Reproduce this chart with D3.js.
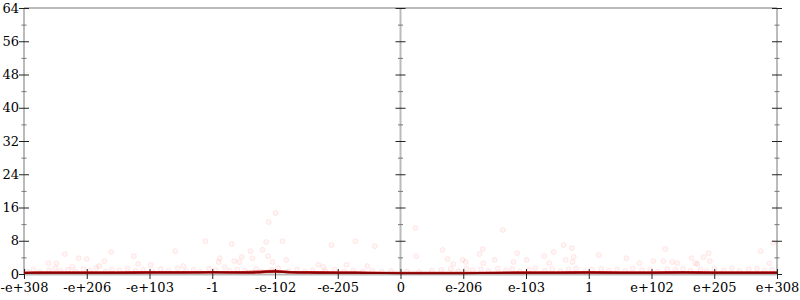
<!DOCTYPE html>
<html>
<head>
<meta charset="utf-8">
<script src="https://cdn.jsdelivr.net/npm/d3@7"></script>
<style>
  body { margin: 0; background: #fff; }
  text { font-family: "DejaVu Serif", serif; font-size: 13px; fill: #000; }
</style>
</head>
<body>
<div class="container"></div>
<script>
const WIDTH = 800;
const HEIGHT = 300;
const LEFT = 24, RIGHT = 777, TOP = 8, BOTTOM = 274;

// x is the position on the ordered-bits axis, one unit per labelled tick
var xTicks = [-6, -5, -4, -3, -2, -1, 0, 1, 2, 3, 4, 5, 6];
var xTickLabels = ["-e+308", "-e+206", "-e+103", "-1", "-e-102", "-e-205", "0",
                   "e-206", "e-103", "1", "e+102", "e+205", "e+308"];
var yTicks = [0, 8, 16, 24, 32, 40, 48, 56, 64];
var yMinorTicks = [4, 12, 20, 28, 36, 44, 52, 60];

// running mean and its band
var meanX = [-6, -5.5, -5, -4.5, -4, -3.5, -3, -2.5, -2.25, -2, -1.75, -1.5, -1, -0.5, 0,
             0.5, 1, 1.5, 2, 2.5, 3, 3.5, 4, 4.5, 5, 5.5, 6];
var meanY = [0.25, 0.3, 0.3, 0.3, 0.35, 0.35, 0.4, 0.35, 0.45, 0.6, 0.4, 0.35, 0.3, 0.25, 0.2,
             0.2, 0.2, 0.25, 0.3, 0.3, 0.35, 0.3, 0.3, 0.35, 0.3, 0.3, 0.3];
var bandLow = [0.0, 0.0, 0.0, 0.0, 0.05, 0.05, 0.1, 0.05, 0.1, 0.3, 0.1, 0.05, 0.0, 0.0, 0.0,
               0.0, 0.0, 0.0, 0.0, 0.0, 0.05, 0.0, 0.0, 0.05, 0.0, 0.0, 0.0];
var bandHigh = [0.6, 0.65, 0.65, 0.65, 0.7, 0.7, 0.75, 0.7, 0.85, 1.0, 0.75, 0.7, 0.65, 0.6, 0.55,
                0.55, 0.55, 0.6, 0.65, 0.65, 0.7, 0.65, 0.65, 0.7, 0.65, 0.65, 0.65];

// scattered samples, higher ones
var sparsePoints = [
  [-5.35, 4.8], [-5.61, 2.6], [-5.48, 2.6], [-5.13, 3.8], [-5.0, 3.6], [-5.23, 1.7],
  [-4.8, 1.9], [-4.72, 3.1], [-4.61, 5.3], [-4.25, 4.3], [-4.18, 2.4], [-3.98, 2.2],
  [-3.59, 5.5], [-3.46, 1.9], [-3.11, 7.9], [-2.88, 3.8], [-2.9, 2.9], [-2.69, 7.2],
  [-2.65, 3.1], [-2.57, 2.9], [-2.53, 4.1], [-2.39, 5.5], [-2.36, 3.8], [-2.2, 5.8],
  [-2.14, 7.7], [-2.1, 12.5], [-1.99, 14.7], [-2.11, 4.3], [-2.04, 2.9], [-1.88, 7.9],
  [-1.82, 3.4], [-1.31, 2.2], [-1.23, 1.7], [-1.1, 7.0], [-0.86, 2.2], [-0.72, 7.9],
  [-0.53, 1.9], [-0.41, 6.7],
  [0.24, 11.1], [0.25, 4.3], [0.67, 5.8], [0.75, 3.6], [0.84, 2.4], [0.99, 3.4],
  [1.04, 2.9], [1.26, 4.8], [1.31, 6.0], [1.32, 2.6], [1.5, 3.4], [1.63, 10.6],
  [1.8, 2.9], [1.86, 5.0], [2.01, 3.4], [2.29, 4.3], [2.37, 2.6], [2.44, 5.3],
  [2.6, 7.0], [2.63, 3.4], [2.73, 6.2], [2.76, 4.1], [2.74, 2.9], [3.16, 4.6],
  [3.6, 3.8], [3.81, 2.6], [4.03, 3.1], [4.19, 3.1], [4.22, 6.0], [4.33, 2.9],
  [4.41, 2.6], [4.64, 3.8], [4.7, 2.6], [4.73, 2.4], [4.83, 4.1], [4.91, 5.0],
  [4.93, 3.1], [5.74, 5.5], [5.88, 2.6], [5.94, 7.5]
];

// dense samples just above zero
var densePoints = [
  [-5.95, 0.6], [-5.85, 1.1], [-5.75, 0.5], [-5.6, 0.9], [-5.5, 1.4], [-5.42, 0.7],
  [-5.3, 1.0], [-5.18, 0.6], [-5.05, 1.2], [-4.95, 0.8], [-4.85, 1.5], [-4.7, 0.6],
  [-4.6, 1.1], [-4.48, 0.9], [-4.35, 1.3], [-4.22, 0.7], [-4.1, 1.0], [-3.95, 0.6],
  [-3.82, 1.2], [-3.7, 0.8], [-3.55, 1.4], [-3.42, 0.7], [-3.3, 1.0], [-3.2, 0.6],
  [-3.05, 1.3], [-2.95, 0.9], [-2.8, 1.6], [-2.72, 0.7], [-2.6, 1.1], [-2.48, 0.8],
  [-2.3, 1.2], [-2.22, 0.6], [-2.05, 1.0], [-1.95, 1.4], [-1.78, 0.7], [-1.65, 1.1],
  [-1.52, 0.6], [-1.4, 0.9], [-1.2, 0.7], [-1.05, 1.1], [-0.9, 0.6], [-0.75, 0.9],
  [-0.6, 0.6], [-0.45, 0.8], [-0.3, 0.5], [-0.15, 0.7],
  [0.1, 0.6], [0.3, 0.5], [0.5, 0.8], [0.65, 1.0], [0.8, 1.2], [0.92, 0.7],
  [1.05, 1.3], [1.15, 0.9], [1.28, 1.1], [1.4, 0.7], [1.55, 1.3], [1.68, 0.9],
  [1.78, 1.2], [1.9, 0.6], [2.05, 1.0], [2.15, 1.4], [2.3, 0.8], [2.42, 1.2],
  [2.55, 0.7], [2.68, 1.1], [2.8, 1.3], [2.95, 0.6], [3.05, 1.0], [3.2, 1.2],
  [3.32, 0.8], [3.45, 1.1], [3.58, 0.7], [3.7, 1.3], [3.85, 0.9], [3.98, 1.1],
  [4.1, 0.6], [4.25, 1.2], [4.38, 1.0], [4.5, 1.3], [4.62, 0.8], [4.78, 1.1],
  [4.88, 0.7], [5.0, 1.2], [5.15, 0.9], [5.28, 1.4], [5.4, 0.7], [5.55, 1.1],
  [5.68, 1.3], [5.8, 0.8], [5.92, 1.0]
];

var xScale = d3.scaleLinear().domain([-6, 6]).range([LEFT, RIGHT]);
var yScale = d3.scaleLinear().domain([0, 64]).range([BOTTOM, TOP]);

var svg = d3.select('.container').append('svg')
    .attr('width', WIDTH)
    .attr('height', HEIGHT);

var translate = function (x, y) {
    return "translate(" + x + "," + y + ")";
};

// frame lines
var frame = svg.append('g').attr('stroke', '#bbb').attr('stroke-width', 2);
frame.append('line')
    .attr('x1', xScale(-6)).attr('x2', xScale(6))
    .attr('y1', yScale(64)).attr('y2', yScale(64));
[-6, 0, 6].forEach(function (v) {
    frame.append('line')
        .attr('x1', xScale(v)).attr('x2', xScale(v))
        .attr('y1', yScale(0)).attr('y2', yScale(64));
});

// vertical axes ticks (left one labelled)
var drawYAxis = function (xPos, labelled) {
    var minor = svg.append('g').attr('transform', translate(xPos, 0))
        .call(d3.axisLeft(yScale).tickValues(yMinorTicks).tickFormat('').tickSizeOuter(0));
    minor.select('.domain').remove();
    minor.selectAll('line').attr('x1', -2.5).attr('x2', 2.5).attr('stroke', '#777');

    var major = svg.append('g').attr('transform', translate(xPos, 0))
        .call(d3.axisLeft(yScale).tickValues(yTicks).tickSizeOuter(0)
            .tickFormat(labelled ? d3.format('d') : ''));
    major.select('.domain').remove();
    major.selectAll('line').attr('x1', -5).attr('x2', 5).attr('stroke', '#222');
    major.selectAll('text').attr('x', -5).attr('font-family', null).attr('font-size', null);
};
drawYAxis(xScale(-6), true);
drawYAxis(xScale(0), false);
drawYAxis(xScale(6), false);

// bottom axis
var xAxis = svg.append('g').attr('transform', translate(0, yScale(0)))
    .call(d3.axisBottom(xScale).tickValues(xTicks).tickSizeOuter(0)
        .tickFormat(function (d, i) { return xTickLabels[i]; }));
xAxis.select('.domain').attr('stroke', '#bbb').attr('stroke-width', 2);
xAxis.selectAll('line').attr('y1', -5).attr('y2', 5).attr('stroke', '#222');
xAxis.selectAll('text').attr('y', 9).attr('font-family', null).attr('font-size', null);

// scatter
var points = svg.append('g');
points.selectAll('circle')
    .data(densePoints.concat(sparsePoints))
    .enter()
    .append('circle')
    .attr('cx', function (d) { return xScale(d[0]); })
    .attr('cy', function (d) { return yScale(d[1]); })
    .attr('r', 2.5)
    .attr('fill', '#f00')
    .attr('fill-opacity', 0.04)
    .attr('stroke', '#f00')
    .attr('stroke-opacity', 0.08);

// band and mean line
var area = d3.area()
    .x(function (d, i) { return xScale(meanX[i]); })
    .y0(function (d, i) { return yScale(bandLow[i]); })
    .y1(function (d, i) { return yScale(bandHigh[i]); })
    .curve(d3.curveMonotoneX);
svg.append('path')
    .attr('d', area(meanX))
    .attr('fill', '#c00')
    .attr('fill-opacity', 0.8);

var line = d3.line()
    .x(function (d, i) { return xScale(meanX[i]); })
    .y(function (d) { return yScale(d); })
    .curve(d3.curveMonotoneX);
svg.append('path')
    .attr('d', line(meanY))
    .attr('fill', 'none')
    .attr('stroke', '#800')
    .attr('stroke-width', 2);
</script>
</body>
</html>
